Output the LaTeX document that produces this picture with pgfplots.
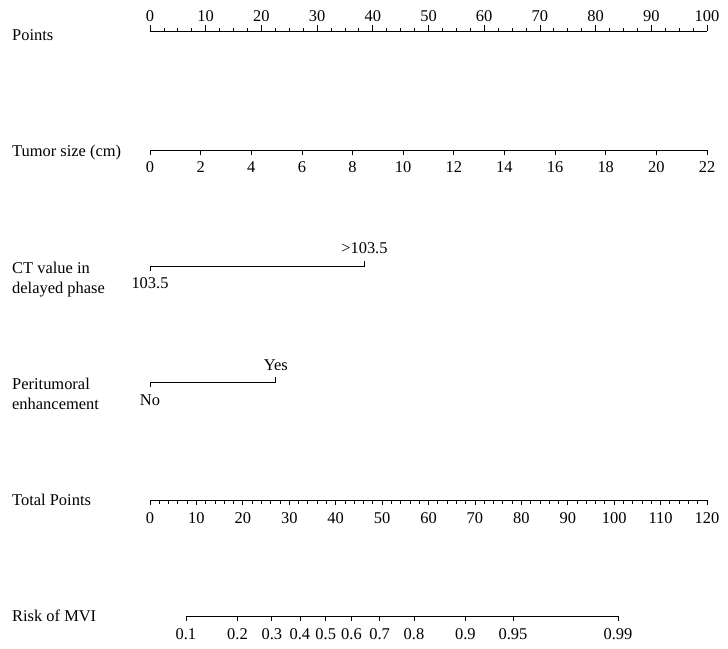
\documentclass[border=0pt]{standalone}
\usepackage{fontspec}
\setmainfont{Liberation Serif}
\usepackage{pgfplots}
\pgfplotsset{compat=1.18}
\newcommand{\nfont}{\fontsize{16.5}{19}\selectfont}
\pgfplotsset{
  nomo/.style={
    scale only axis, width=557bp, height=10bp,
    hide y axis, ymin=0, ymax=1,
    ticklabel style={font=\nfont},
    /pgf/number format/assume math mode=true,
    clip=false,
  },
  nomofix/.style={
    axis line style={-, line width=0.8bp, black},
    tick style={line width=0.8bp, black},
    tick align=outside,
    major tick length=5bp, minor tick length=3bp,
  },
  cat/.style={
    scale only axis, width=557bp, height=20bp,
    hide axis, xmin=0, xmax=100, ymin=-10, ymax=10, clip=false,
  }
}
\begin{document}
\begin{tikzpicture}[font=\nfont]
\path[use as bounding box] (0,0) rectangle (728bp,-649bp);

% Row labels
\node[anchor=base west, inner sep=0] at (12bp,-40bp) {Points};
\node[anchor=base west, inner sep=0] at (12bp,-156bp) {Tumor size (cm)};
\node[anchor=base west, inner sep=0] at (12bp,-273bp) {CT value in};
\node[anchor=base west, inner sep=0] at (12bp,-293bp) {delayed phase};
\node[anchor=base west, inner sep=0] at (12bp,-389bp) {Peritumoral};
\node[anchor=base west, inner sep=0] at (12bp,-409bp) {enhancement};
\node[anchor=base west, inner sep=0] at (12bp,-505bp) {Total Points};
\node[anchor=base west, inner sep=0] at (12bp,-621bp) {Risk of MVI};

% Points
\begin{axis}[nomo, at={(150bp,-31bp)}, anchor=north west,
  axis x line=top, nomofix,
  xmin=0, xmax=100, xtick={0,10,...,100}, minor x tick num=3,
  major tick length=6bp,
  xticklabel style={yshift=-0.5bp}]
\end{axis}

% Tumor size
\begin{axis}[nomo, at={(150bp,-150bp)}, anchor=south west,
  axis x line=bottom, nomofix,
  xmin=0, xmax=22, xtick={0,2,...,22},
  xticklabel style={yshift=-3bp}]
\end{axis}

% CT value in delayed phase
\begin{axis}[cat, at={(150bp,-266bp)}, anchor=west]
\addplot[black, line width=0.8bp] coordinates {(0,-5) (0,0) (38.5,0) (38.5,5)};
\node[anchor=base, inner sep=0] at (axis cs:0,-22) {103.5};
\node[anchor=base, inner sep=0] at (axis cs:38.5,12.5) {\textgreater103.5};
\end{axis}

% Peritumoral enhancement
\begin{axis}[cat, at={(150bp,-382bp)}, anchor=west]
\addplot[black, line width=0.8bp] coordinates {(0,-5) (0,0) (22.6,0) (22.6,5)};
\node[anchor=base, inner sep=0] at (axis cs:0,-23.5) {No};
\node[anchor=base, inner sep=0] at (axis cs:22.6,12) {Yes};
\end{axis}

% Total points
\begin{axis}[nomo, at={(150bp,-500bp)}, anchor=south west,
  axis x line=bottom, nomofix,
  xmin=0, xmax=120, xtick={0,10,...,120}, minor x tick num=4,
  minor tick length=4bp,
  xticklabel style={yshift=-4bp}]
\end{axis}

% Risk of MVI
\begin{axis}[nomo, at={(185.9bp,-616bp)}, anchor=south west,
  width=432.1bp,
  axis x line=bottom, nomofix,
  xmin=7.73, xmax=100.82,
  xtick={7.73,18.85,26.24,32.29,37.85,43.41,49.47,56.86,67.95,78.20,100.82},
  xticklabels={0.1,0.2,0.3,0.4,0.5,0.6,0.7,0.8,0.9,0.95,0.99},
  xticklabel style={yshift=-4bp}]
\end{axis}
\end{tikzpicture}
\end{document}
